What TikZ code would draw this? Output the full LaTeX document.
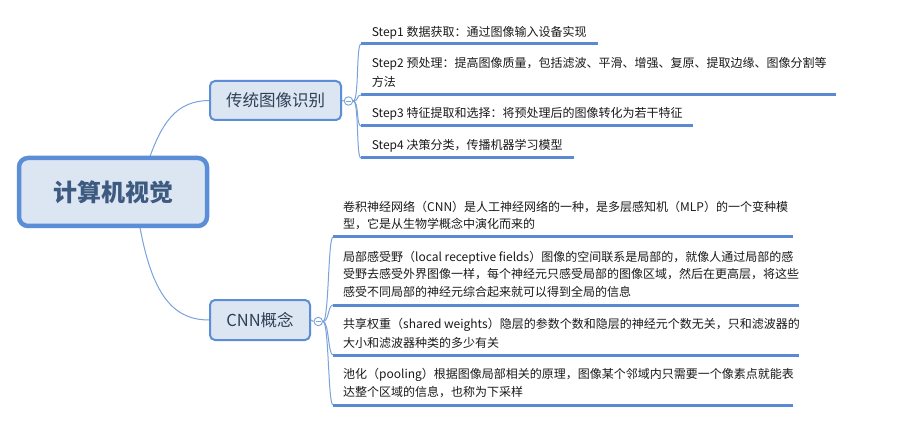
\documentclass[tikz,border=0pt]{standalone}
\usepackage{fontspec}
\setmainfont{Noto Sans CJK SC}
\usetikzlibrary{backgrounds}
\definecolor{bord}{HTML}{5B8ED6}
\definecolor{nfill}{HTML}{DCE6F2}
\definecolor{conn}{HTML}{7AA3DC}
\definecolor{ulcol}{HTML}{5A8AD2}
\definecolor{maintext}{HTML}{3D5A80}
\definecolor{topictext}{HTML}{2E3F57}
\definecolor{leaftext}{HTML}{1A1A1A}
\begin{document}
\begin{tikzpicture}[x=1pt,y=-1pt,
  mainbox/.style={draw=bord, line width=4.5pt, fill=nfill, rounded corners=9pt,
    minimum width=188pt, minimum height=68pt, inner sep=0pt,
    font=\fontsize{24}{28}\selectfont\bfseries, text=maintext},
  topicbox/.style={draw=bord, line width=2pt, fill=nfill, rounded corners=5pt,
    inner sep=0pt, font=\fontsize{16.5}{20}\selectfont, text=topictext},
  collapse/.style={circle, draw=conn, line width=0.9pt, fill=white,
    minimum size=8.5pt, inner sep=0pt,
    path picture={\draw[conn, line width=0.8pt]
      ([xshift=-2.6pt]path picture bounding box.center) --
      ([xshift=2.6pt]path picture bounding box.center);}},
  leaf/.style={anchor=base west, inner sep=0pt, align=left,
    font=\fontsize{12}{#1}\selectfont, text=leaftext},
  leaf/.default=18,
  uline/.style={draw=ulcol, line width=3pt},
  link/.style={draw=conn, line width=1pt}
]
\useasboundingbox (0,0) rectangle (900,422);

% main and topic nodes
\node[mainbox] (main) at (113,192) {计算机视觉};
\node[topicbox, minimum width=131pt, minimum height=39pt] (t1) at (275.5,100.5) {传统图像识别};
\node[topicbox, minimum width=100pt, minimum height=40pt] (t2) at (260,320) {CNN概念};
\node[collapse] (c1) at (348.5,101) {};
\node[collapse] (c2) at (318.3,321.5) {};
\draw[link] (t1.east) -- (c1.west);
\draw[link] (t2.east) -- (c2.west);

% links from main node (behind it)
\coordinate (mtop) at (146,168);
\coordinate (mbot) at (138,216);
\begin{scope}[on background layer]
  \fill[white] (0,0) rectangle (900,422);
  \draw[link] (mtop) .. controls (161,122) and (176,101) .. (t1.west);
  \draw[link] (mbot) .. controls (150,290) and (170,320) .. (t2.west);
\end{scope}

% leaf texts, branch 1 (anchor = baseline of the last line)
\node[leaf] (s1) at (371.7,37) {Step1 数据获取：通过图像输入设备实现};
\node[leaf=19] (s2) at (371.7,86.5) {Step2 预处理：提高图像质量，包括滤波、平滑、增强、复原、提取边缘、图像分割等\\方法};
\node[leaf] (s3) at (371.7,118) {Step3 特征提取和选择：将预处理后的图像转化为若干特征};
\node[leaf] (s4) at (371.7,150) {Step4 决策分类，传播机器学习模型};

% leaf texts, branch 2
\node[leaf=17] (n1) at (343,228.5) {卷积神经网络（CNN）是人工神经网络的一种，是多层感知机（MLP）的一个变种模\\型，它是从生物学概念中演化而来的};
\node[leaf=17.5] (n2) at (343,296.5) {局部感受野（local receptive fields）图像的空间联系是局部的，就像人通过局部的感\\受野去感受外界图像一样，每个神经元只感受局部的图像区域，然后在更高层，将这些\\感受不同局部的神经元综合起来就可以得到全局的信息};
\node[leaf=19] (n3) at (343,347.5) {共享权重（shared weights）隐层的参数个数和隐层的神经元个数无关，只和滤波器的\\大小和滤波器种类的多少有关};
\node[leaf=18] (n4) at (343,396.5) {池化（pooling）根据图像局部相关的原理，图像某个邻域内只需要一个像素点就能表\\达整个区域的信息，也称为下采样};

% underline ends
\coordinate (a1) at (361,44);  \coordinate (b1) at (598,44);
\coordinate (a2) at (361,95);  \coordinate (b2) at (836,95);
\coordinate (a3) at (361,126); \coordinate (b3) at (693,126);
\coordinate (a4) at (361,158); \coordinate (b4) at (574,158);
\coordinate (p1) at (333,237); \coordinate (q1) at (793,237);
\coordinate (p2) at (333,305); \coordinate (q2) at (799,305);
\coordinate (p3) at (333,355); \coordinate (q3) at (799,355);
\coordinate (p4) at (333,405); \coordinate (q4) at (793,405);

% branch connectors
\foreach \k in {1,2,3,4}{
  \draw[link] (c1.east) .. controls +(6,0) and +(-5,0) .. (a\k);
  \draw[link] (c2.east) .. controls +(6,0) and +(-5,0) .. (p\k);
}
% underlines
\foreach \k in {1,2,3,4}{
  \draw[uline] (a\k) -- (b\k);
  \draw[uline] (p\k) -- (q\k);
}
\end{tikzpicture}
\end{document}
